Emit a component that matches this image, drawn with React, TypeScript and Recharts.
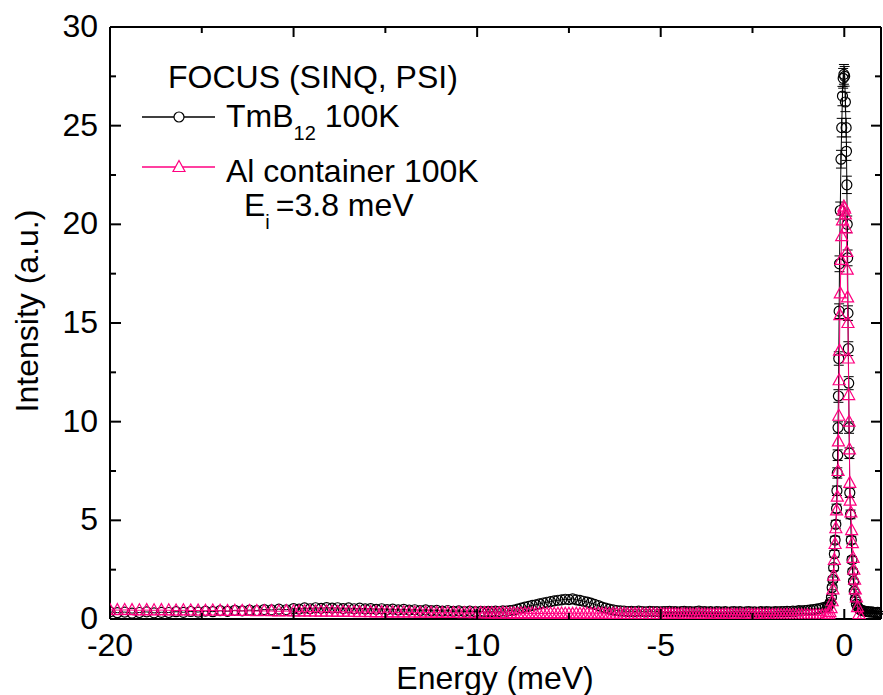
import { ScatterChart, Scatter, XAxis, YAxis, ErrorBar } from "recharts"

const FONT = "'Liberation Sans', Arial, Helvetica, sans-serif"
const PINK = "#ff0080"
const W = 883
const H = 695

// energy transfer grid of the inelastic part (meV); channels get finer towards the elastic line
const energy = [
  -20, -19.8, -19.6, -19.4, -19.2, -19, -18.8, -18.6, -18.4, -18.2,
  -18, -17.8, -17.6, -17.4, -17.2, -17, -16.8, -16.6, -16.4, -16.2,
  -16, -15.8, -15.6, -15.4, -15.2, -15, -14.85, -14.7, -14.55, -14.4,
  -14.25, -14.1, -13.95, -13.8, -13.65, -13.5, -13.35, -13.2, -13.05, -12.9,
  -12.75, -12.6, -12.45, -12.3, -12.15, -12, -11.85, -11.7, -11.55, -11.4,
  -11.25, -11.1, -10.95, -10.8, -10.65, -10.5, -10.35, -10.2, -10.05, -9.9,
  -9.8, -9.7, -9.6, -9.5, -9.4, -9.3, -9.2, -9.1, -9, -8.9,
  -8.8, -8.7, -8.6, -8.5, -8.4, -8.3, -8.2, -8.1, -8, -7.9,
  -7.8, -7.7, -7.6, -7.5, -7.4, -7.3, -7.2, -7.1, -7, -6.9,
  -6.8, -6.7, -6.6, -6.5, -6.4, -6.3, -6.2, -6.1, -6, -5.9,
  -5.8, -5.7, -5.6, -5.5, -5.4, -5.3, -5.2, -5.1, -5, -4.92,
  -4.84, -4.76, -4.68, -4.6, -4.52, -4.44, -4.36, -4.28, -4.2, -4.12,
  -4.04, -3.96, -3.88, -3.8, -3.72, -3.64, -3.56, -3.48, -3.4, -3.32,
  -3.24, -3.16, -3.08, -3, -2.92, -2.84, -2.76, -2.68, -2.6, -2.52,
  -2.44, -2.36, -2.28, -2.2, -2.12, -2.04, -1.96, -1.88, -1.8, -1.72,
  -1.64, -1.56, -1.48, -1.4, -1.32, -1.24, -1.16, -1.08, -1, -0.92,
  -0.84, -0.76, -0.68, -0.6, -0.52,
]

// TmB12 at 100K, inelastic background on the energy grid
const tmbBase = [
  0.36, 0.32, 0.35, 0.3, 0.33, 0.36, 0.31, 0.34, 0.33, 0.37,
  0.34, 0.38, 0.35, 0.4, 0.37, 0.42, 0.39, 0.44, 0.41, 0.45,
  0.43, 0.48, 0.46, 0.5, 0.47, 0.53, 0.5, 0.56, 0.52, 0.57,
  0.54, 0.58, 0.55, 0.57, 0.53, 0.56, 0.52, 0.55, 0.51, 0.53,
  0.49, 0.52, 0.48, 0.5, 0.46, 0.49, 0.45, 0.47, 0.43, 0.46,
  0.42, 0.44, 0.4, 0.43, 0.39, 0.41, 0.38, 0.4, 0.37, 0.39,
  0.36, 0.39, 0.37, 0.4, 0.38, 0.41, 0.4, 0.43, 0.45, 0.5,
  0.55, 0.6, 0.64, 0.69, 0.72, 0.77, 0.81, 0.85, 0.88, 0.92,
  0.95, 0.97, 1.0, 0.98, 1.02, 0.97, 0.94, 0.9, 0.86, 0.8,
  0.74, 0.68, 0.6, 0.55, 0.5, 0.46, 0.43, 0.41, 0.4, 0.38,
  0.39, 0.37, 0.4, 0.38, 0.36, 0.39, 0.37, 0.38, 0.36, 0.38,
  0.37, 0.39, 0.36, 0.38, 0.35, 0.37, 0.39, 0.36, 0.38, 0.35,
  0.37, 0.4, 0.36, 0.38, 0.35, 0.37, 0.34, 0.38, 0.36, 0.35,
  0.37, 0.34, 0.36, 0.38, 0.35, 0.37, 0.34, 0.36, 0.38, 0.35,
  0.36, 0.34, 0.37, 0.35, 0.38, 0.36, 0.35, 0.37, 0.36, 0.38,
  0.37, 0.39, 0.38, 0.4, 0.39, 0.42, 0.41, 0.43, 0.44, 0.46,
  0.48, 0.5, 0.53, 0.56, 0.6,
]

// Al container at 100K on the same grid
const alBase = [
  0.46, 0.45, 0.46, 0.45, 0.44, 0.45, 0.44, 0.45, 0.44, 0.43,
  0.44, 0.43, 0.43, 0.42, 0.43, 0.42, 0.41, 0.42, 0.41, 0.41,
  0.4, 0.41, 0.4, 0.39, 0.4, 0.39, 0.38, 0.39, 0.38, 0.38,
  0.37, 0.38, 0.37, 0.36, 0.37, 0.36, 0.36, 0.35, 0.36, 0.35,
  0.34, 0.35, 0.34, 0.34, 0.33, 0.34, 0.33, 0.33, 0.32, 0.33,
  0.32, 0.32, 0.31, 0.32, 0.31, 0.31, 0.3, 0.31, 0.3, 0.3,
  0.3, 0.29, 0.3, 0.29, 0.29, 0.3, 0.29, 0.28, 0.29, 0.28,
  0.28, 0.29, 0.28, 0.28, 0.27, 0.28, 0.28, 0.27, 0.28, 0.27,
  0.27, 0.28, 0.27, 0.27, 0.26, 0.27, 0.27, 0.26, 0.27, 0.26,
  0.26, 0.27, 0.26, 0.26, 0.25, 0.26, 0.26, 0.25, 0.26, 0.25,
  0.25, 0.26, 0.25, 0.25, 0.24, 0.25, 0.25, 0.24, 0.25, 0.24,
  0.24, 0.25, 0.24, 0.24, 0.23, 0.24, 0.24, 0.23, 0.24, 0.23,
  0.23, 0.24, 0.23, 0.23, 0.22, 0.23, 0.23, 0.22, 0.23, 0.22,
  0.22, 0.23, 0.22, 0.22, 0.21, 0.22, 0.22, 0.21, 0.22, 0.21,
  0.21, 0.22, 0.21, 0.21, 0.2, 0.21, 0.21, 0.2, 0.21, 0.2,
  0.2, 0.21, 0.2, 0.2, 0.19, 0.2, 0.2, 0.19, 0.2, 0.19,
  0.19, 0.2, 0.19, 0.19, 0.2,
]

// elastic line and energy-loss side, TmB12
const tmbPeakE = [
  -0.46, -0.42, -0.38, -0.35, -0.33, -0.31, -0.29, -0.27, -0.25, -0.23,
  -0.21, -0.2, -0.19, -0.18, -0.17, -0.16, -0.15, -0.14, -0.13, -0.11,
  -0.09, -0.07, -0.05, -0.03, -0.01, 0.01, 0.03, 0.05, 0.06, 0.07,
  0.08, 0.09, 0.1, 0.11, 0.12, 0.13, 0.14, 0.15, 0.17, 0.19,
  0.21, 0.23, 0.25, 0.27, 0.3, 0.33, 0.37, 0.41, 0.45, 0.5,
  0.55, 0.6, 0.65, 0.7, 0.75, 0.8, 0.85, 0.9, 0.95, 1.0,
]
const tmbPeakI = [
  0.62, 0.7, 0.85, 1.1, 1.6, 2.0, 2.6, 3.3, 4.0, 4.8,
  5.6, 6.5, 7.4, 8.3, 9.7, 11.3, 13.2, 15.6, 18.0, 20.7,
  23.3, 24.9, 26.5, 27.4, 27.6, 27.5, 26.2, 24.9, 23.7, 22.0,
  20.0, 18.3, 15.5, 13.7, 11.95, 9.7, 8.4, 6.4, 5.3, 4.0,
  3.0, 2.4, 1.9, 1.4, 1.0, 0.75, 0.6, 0.5, 0.45, 0.42,
  0.4, 0.38, 0.37, 0.35, 0.36, 0.34, 0.33, 0.34, 0.32, 0.31,
]
const tmbPeakErr = [
  0.08, 0.08, 0.09, 0.1, 0.12, 0.13, 0.15, 0.17, 0.19, 0.2,
  0.22, 0.24, 0.26, 0.27, 0.29, 0.32, 0.34, 0.37, 0.4, 0.43,
  0.45, 0.47, 0.49, 0.5, 0.5, 0.5, 0.49, 0.47, 0.46, 0.44,
  0.42, 0.4, 0.37, 0.35, 0.33, 0.29, 0.27, 0.24, 0.22, 0.19,
  0.16, 0.14, 0.13, 0.11, 0.1, 0.08, 0.07, 0.07, 0.06, 0.06,
  0.06, 0.06, 0.06, 0.06, 0.06, 0.06, 0.06, 0.06, 0.06, 0.06,
]

// elastic line, Al container
const alPeakE = [
  -0.46, -0.42, -0.39, -0.36, -0.33, -0.31, -0.29, -0.27, -0.25, -0.23,
  -0.21, -0.19, -0.17, -0.16, -0.15, -0.14, -0.13, -0.12, -0.11, -0.09,
  -0.07, -0.05, -0.03, -0.01, 0.01, 0.03, 0.05, 0.07, 0.08, 0.09,
  0.1, 0.11, 0.12, 0.13, 0.14, 0.15, 0.16, 0.18, 0.2, 0.22,
  0.24, 0.26, 0.28, 0.3, 0.33, 0.36, 0.4, 0.46,
]
const alPeakI = [
  0.2, 0.25, 0.35, 0.55, 0.9, 1.5, 2.2, 3.0, 3.8, 4.6,
  5.5, 6.2, 7.5, 9.0, 10.3, 12.1, 13.6, 15.4, 16.5, 18.2,
  19.4, 20.2, 20.7, 20.9, 20.8, 20.5, 19.8, 18.6, 17.7, 16.3,
  15.0, 13.2, 11.35, 10.0, 8.6, 6.9, 6.0, 5.4, 4.5, 3.85,
  3.1, 2.5, 2.0, 1.5, 1.1, 0.6, 0.25, 0.05,
]

const xTicks = [-20, -17.5, -15, -12.5, -10, -7.5, -5, -2.5, 0]
const yTicks = [0, 2.5, 5, 7.5, 10, 12.5, 15, 17.5, 20, 22.5, 25, 27.5, 30]

const tmbData = [
  ...energy.map((e, i) => ({ x: e, y: tmbBase[i] })),
  ...tmbPeakE.map((e, i) => ({ x: e, y: tmbPeakI[i], err: tmbPeakErr[i] })),
]
const alData = [
  ...energy.map((e, i) => ({ x: e, y: alBase[i] })),
  ...alPeakE.map((e, i) => ({ x: e, y: alPeakI[i] })),
]

const AXIS = { stroke: "#000", strokeWidth: 2 }
const isMajor = (v: number) => Math.abs(v % 5) < 1e-9

// ticks point into the frame; labels only on the bottom and left axes
function BottomTick(props: any) {
  const { x, y, payload } = props
  const major = isMajor(payload.value)
  return (
    <g>
      <line x1={x} y1={y} x2={x} y2={y - (major ? 10 : 6)} stroke="#000" strokeWidth={2} />
      {major ? (
        <text x={x} y={y + 37} textAnchor="middle" fontSize={32} fontFamily={FONT} fill="#000">
          {payload.value}
        </text>
      ) : null}
    </g>
  )
}

function TopTick(props: any) {
  const { x, y, payload } = props
  const major = isMajor(payload.value)
  return <line x1={x} y1={y} x2={x} y2={y + (major ? 10 : 6)} stroke="#000" strokeWidth={2} />
}

function LeftTick(props: any) {
  const { x, y, payload } = props
  const major = isMajor(payload.value)
  return (
    <g>
      <line x1={x} y1={y} x2={x + (major ? 11 : 6)} y2={y} stroke="#000" strokeWidth={2} />
      {major ? (
        <text x={x - 12} y={y + 10} textAnchor="end" fontSize={32} fontFamily={FONT} fill="#000">
          {payload.value}
        </text>
      ) : null}
    </g>
  )
}

function RightTick(props: any) {
  const { x, y, payload } = props
  const major = isMajor(payload.value)
  return <line x1={x} y1={y} x2={x - (major ? 10 : 6)} y2={y} stroke="#000" strokeWidth={2} />
}

function CircleMark(props: any) {
  return <circle cx={props.cx} cy={props.cy} r={5} fill="none" stroke="#000" strokeWidth={1.2} />
}

function TriangleMark(props: any) {
  const { cx, cy } = props
  return (
    <path
      d={`M${cx},${cy - 6.5}L${cx + 6},${cy + 4.5}L${cx - 6},${cy + 4.5}Z`}
      fill="none"
      stroke={PINK}
      strokeWidth={1.2}
    />
  )
}

export default function App() {
  return (
    <div style={{ position: "absolute", left: 0, top: 0, width: W, height: H, background: "#fff" }}>
      <ScatterChart width={W} height={H} margin={{ top: 26, right: 1, bottom: 75, left: 109 }}>
        <XAxis
          xAxisId="b"
          type="number"
          dataKey="x"
          domain={[-20, 1]}
          ticks={xTicks}
          interval={0}
          height={1}
          tickSize={0}
          tickMargin={0}
          tickLine={false}
          axisLine={AXIS}
          tick={BottomTick}
          allowDataOverflow
        />
        <XAxis
          xAxisId="t"
          orientation="top"
          type="number"
          dataKey="x"
          domain={[-20, 1]}
          ticks={xTicks}
          interval={0}
          height={1}
          tickSize={0}
          tickMargin={0}
          tickLine={false}
          axisLine={AXIS}
          tick={TopTick}
          allowDataOverflow
        />
        <YAxis
          yAxisId="l"
          type="number"
          dataKey="y"
          domain={[0, 30]}
          ticks={yTicks}
          interval={0}
          width={1}
          tickSize={0}
          tickMargin={0}
          tickLine={false}
          axisLine={AXIS}
          tick={LeftTick}
          allowDataOverflow
        />
        <YAxis
          yAxisId="r"
          orientation="right"
          type="number"
          dataKey="y"
          domain={[0, 30]}
          ticks={yTicks}
          interval={0}
          width={1}
          tickSize={0}
          tickMargin={0}
          tickLine={false}
          axisLine={AXIS}
          tick={RightTick}
          allowDataOverflow
        />
        <Scatter
          name="TmB12 100K"
          xAxisId="b"
          yAxisId="l"
          data={tmbData}
          line={{ stroke: "#000", strokeWidth: 1 }}
          shape={CircleMark}
          isAnimationActive={false}
        >
          <ErrorBar dataKey="err" direction="y" width={5} stroke="#000" strokeWidth={1} />
        </Scatter>
        <Scatter
          name="Al container 100K"
          xAxisId="b"
          yAxisId="l"
          data={alData}
          line={{ stroke: PINK, strokeWidth: 1 }}
          shape={TriangleMark}
          isAnimationActive={false}
        />
      </ScatterChart>

      <svg
        width={W}
        height={H}
        style={{ position: "absolute", left: 0, top: 0, pointerEvents: "none" }}
        fontFamily={FONT}
        fill="#000"
      >
        <text x={38} y={311} fontSize={32} textAnchor="middle" transform="rotate(-90 38 311)">
          Intensity (a.u.)
        </text>
        <text x={495} y={689} fontSize={32} textAnchor="middle">
          Energy (meV)
        </text>

        <text x={168} y={88} fontSize={32}>
          FOCUS (SINQ, PSI)
        </text>

        <line x1={142} y1={117} x2={215} y2={117} stroke="#000" strokeWidth={1.3} />
        <circle cx={179} cy={117} r={5} fill="#fff" stroke="#000" strokeWidth={1.2} />
        <text x={226} y={127} fontSize={32}>
          TmB
          <tspan fontSize={20} dy={13}>
            12
          </tspan>
          <tspan dx={9} dy={-13}>
            100K
          </tspan>
        </text>

        <line x1={142} y1={167} x2={215} y2={167} stroke={PINK} strokeWidth={1.3} />
        <path d="M179,160.5L185,171.5L173,171.5Z" fill="#fff" stroke={PINK} strokeWidth={1.2} />
        <text x={226} y={182} fontSize={32}>
          Al container 100K
        </text>

        <text x={244} y={216} fontSize={32}>
          E
          <tspan fontSize={20} dy={13}>
            i
          </tspan>
          <tspan dx={6} dy={-13}>
            =3.8 meV
          </tspan>
        </text>
      </svg>
    </div>
  )
}
